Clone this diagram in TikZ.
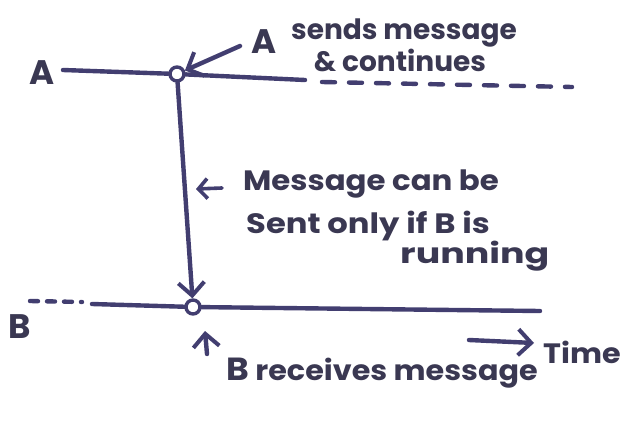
\documentclass[tikz,border=0pt]{standalone}
\usepackage{fontspec}
\setmainfont{Poppins}
\usetikzlibrary{arrows.meta}
\definecolor{ink}{RGB}{66,62,112}
\definecolor{pen}{RGB}{58,56,82}
\begin{document}
\begin{tikzpicture}[x=1pt,y=-1pt,
  line/.style={draw=ink,line width=4.4pt,line cap=round},
  dashline/.style={line,dash pattern=on 13pt off 14pt},
  event/.style={circle,draw=ink,line width=3.4pt,minimum size=14pt,inner sep=0pt,fill=white},
  hand/.style={text=pen,font=\fontsize{28}{30}\selectfont\bfseries,inner sep=0pt},
  big/.style={hand,font=\fontsize{34}{36}\selectfont\bfseries},
  tip/.style={line,-{Straight Barb[length=13pt,width=26pt,line width=4pt]}},
  smalltip/.style={line,line width=3.6pt,-{Straight Barb[length=9pt,width=20pt,line width=3.6pt]}}]
\useasboundingbox[fill=white] (0,0) rectangle (623,420);

% process A: running line, send event, then continues (dashed)
\node[big] (lblA) at (42,73) {A};
\coordinate (a0) at (63,70);
\node[event] (cA) at (177,74) {};
\coordinate (a1) at (305,80);
\coordinate (a2) at (322,82);
\coordinate (a3) at (572,87);
\draw[line] (a0) -- (cA);
\draw[line] (cA) -- (a1);
\draw[dashline] (a2) -- (a3);

% process B: dashed until running, receive event
\node[big] (lblB) at (20,327) {B};
\coordinate (b0) at (30,301);
\coordinate (b1) at (82,302);
\coordinate (b2) at (92,304);
\node[event] (cB) at (193,307) {};
\coordinate (b3) at (540,311);
\draw[line,dash pattern=on 8pt off 9pt] (b0) -- (b1);
\draw[line] (b2) -- (cB);
\draw[line] (cB) -- (b3);

% the message itself
\draw[tip] (cA) -- (cB);

% note on the sender
\node[big] (sendA) at (264,42) {A};
\node[hand] (send1) at (404,33) {sends message};
\node[hand] (send2) at (400,60) {\& continues};
\coordinate (sendTail) at (240,46);
\draw[tip] (sendTail) -- (cA);

% note on the message
\node[hand,anchor=west] (msg1) at (243,184) {\scalebox{1.1}[1]{Message can be}};
\node[hand,anchor=west] (msg2) at (246,226) {\scalebox{1.15}[1]{Sent only if B is}};
\node[hand,anchor=west] (msg3) at (400,256) {\scalebox{1.3}[1]{running}};
\coordinate (msgTail) at (222,188);
\coordinate (msgHead) at (196,189);
\draw[smalltip] (msgTail) -- (msgHead);

% note on the receiver
\node[hand] (recv) at (382,373) {\scalebox{1.08}[1]{{\fontsize{32}{34}\selectfont B} receives message}};
\coordinate (recvTail) at (207,354);
\coordinate (recvHead) at (205,331);
\draw[tip] (recvTail) -- (recvHead);

% time axis hint
\node[hand,anchor=west] (time) at (543,352) {\scalebox{1.08}[1]{Time}};
\coordinate (t0) at (469,340);
\coordinate (t1) at (534,343);
\draw[tip] (t0) -- (t1);
\end{tikzpicture}
\end{document}
